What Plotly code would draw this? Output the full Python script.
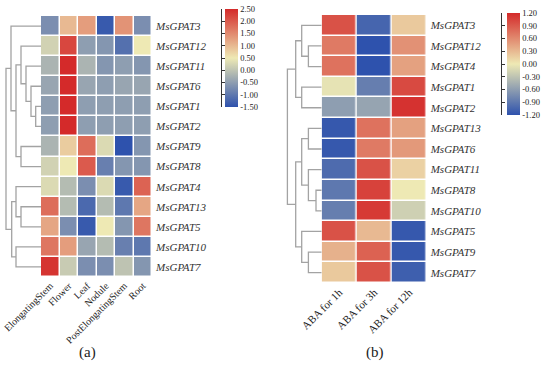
import plotly.graph_objects as go

W, H = 550, 366

# ---------------- data ----------------
tissues = ["ElongatingStem", "Flower", "Leaf", "Nodule", "PostElongatingStem", "Root"]
genes_a = ["MsGPAT3", "MsGPAT12", "MsGPAT11", "MsGPAT6", "MsGPAT1", "MsGPAT2", "MsGPAT9",
           "MsGPAT8", "MsGPAT4", "MsGPAT13", "MsGPAT5", "MsGPAT10", "MsGPAT7"]
values_a = [
    [-0.7, 1.0, 1.3, -1.4, 1.4, -0.7],
    [0.2, 2.2, -0.5, -0.6, -1.1, 0.5],
    [-0.2, 2.5, -0.2, -0.6, -0.5, -0.6],
    [-0.4, 2.5, -0.4, -0.5, -0.4, -0.4],
    [-0.5, 2.5, -0.5, -0.5, -0.5, -0.5],
    [-0.5, 2.5, -0.5, -0.5, -0.5, -0.5],
    [-0.2, 0.8, 1.8, 0.3, -1.5, -0.6],
    [0.2, 0.5, 2.0, -0.9, -0.6, -0.6],
    [0.3, -0.1, -0.7, 0.3, -1.4, 1.9],
    [1.8, -0.1, -1.2, -0.1, -1.0, 1.2],
    [1.2, -0.7, -1.4, 0.5, -0.6, 1.7],
    [1.7, 1.3, -0.4, -0.1, -0.9, -1.0],
    [2.4, 0.1, -0.7, -0.7, 0.0, -0.6],
]
# dendrogram merges: (child_a, child_b, height); ids >= n are earlier merges
links_a = [(4, 5, 5.3), (3, 13, 10), (2, 14, 15), (1, 15, 20), (6, 7, 20), (16, 17, 25),
           (0, 18, 30), (9, 10, 20), (8, 20, 25), (11, 12, 25), (21, 22, 29.3), (19, 23, 35)]
cbar_a_vals = [2.5, 2.0, 1.5, 1.0, 0.5, 0.0, -0.5, -1.0, -1.5]
cbar_a_text = ["2.50", "2.00", "1.50", "1.00", "0.50", "0.00", "-0.50", "-1.00", "-1.50"]

treatments = ["ABA for 1h", "ABA for 3h", "ABA for 12h"]
genes_b = ["MsGPAT3", "MsGPAT12", "MsGPAT4", "MsGPAT1", "MsGPAT2", "MsGPAT13", "MsGPAT6",
           "MsGPAT11", "MsGPAT8", "MsGPAT10", "MsGPAT5", "MsGPAT9", "MsGPAT7"]
values_b = [
    [0.95, -1.05, 0.2],
    [0.7, -1.2, 0.55],
    [0.75, -1.2, 0.45],
    [-0.05, -0.85, 1.0],
    [-0.6, -0.55, 1.15],
    [-1.15, 0.75, 0.45],
    [-1.15, 0.7, 0.5],
    [-1.0, 0.95, 0.15],
    [-0.9, 1.05, 0.0],
    [-0.85, 1.1, -0.2],
    [0.95, 0.3, -1.15],
    [0.35, 0.85, -1.15],
    [0.2, 0.95, -1.1],
]
links_b = [(1, 2, 13.3), (0, 13, 20), (3, 4, 20), (14, 15, 26), (5, 6, 13.3), (8, 9, 5.7),
           (7, 18, 13.3), (17, 19, 20), (11, 12, 13.3), (10, 21, 20), (20, 22, 26), (16, 23, 34.3)]
cbar_b_vals = [1.2, 0.9, 0.6, 0.3, 0.0, -0.3, -0.6, -0.9, -1.2]
cbar_b_text = ["1.20", "0.90", "0.60", "0.30", "0.00", "-0.30", "-0.60", "-0.90", "-1.20"]

captions = ["(a)", "(b)"]

# ---------------- style ----------------
FONT = "Liberation Serif"
TXT = "#222222"
colorscale = [[0.0, "#2e52ad"], [0.5, "#eee9b4"], [1.0, "#d42a2a"]]
DCOL = "#a3a3a3"


def px_x(p):
    return p / W


def px_y(p):
    return 1 - p / H


def dendro_lines(n, links):
    pos = {i: float(i) for i in range(n)}
    hgt = {i: 0.0 for i in range(n)}
    xs, ys = [], []
    for k, (a, b, h) in enumerate(links):
        cid = n + k
        xs += [hgt[a], h, h, hgt[b], None]
        ys += [pos[a], pos[a], pos[b], pos[b], None]
        pos[cid] = (pos[a] + pos[b]) / 2
        hgt[cid] = h
    return xs, ys


fig = go.Figure()

# ---- panel (a) ----
fig.add_trace(go.Heatmap(
    z=values_a, x=list(range(len(tissues))), y=list(range(len(genes_a))),
    colorscale=colorscale, zmin=-1.5, zmax=2.5, xgap=1.5, ygap=1.5,
    xaxis="x", yaxis="y", hoverinfo="skip",
    colorbar=dict(x=px_x(225), xanchor="left", xref="paper", y=px_y(9), yanchor="top",
                  len=98 / H, lenmode="fraction", thickness=13, thicknessmode="pixels",
                  xpad=0, ypad=0, outlinewidth=0, ticks="",
                  tickvals=cbar_a_vals, ticktext=cbar_a_text,
                  tickfont=dict(family=FONT, size=8.5, color=TXT)),
))
xa, ya = dendro_lines(len(genes_a), links_a)
fig.add_trace(go.Scatter(x=xa, y=ya, mode="lines", line=dict(color=DCOL, width=1.3),
                         xaxis="x3", yaxis="y", hoverinfo="skip", showlegend=False))

# ---- panel (b) ----
fig.add_trace(go.Heatmap(
    z=values_b, x=list(range(len(treatments))), y=list(range(len(genes_b))),
    colorscale=colorscale, zmin=-1.2, zmax=1.2, xgap=1.5, ygap=1.5,
    xaxis="x2", yaxis="y2", hoverinfo="skip",
    colorbar=dict(x=px_x(506.7), xanchor="left", xref="paper", y=px_y(13), yanchor="top",
                  len=102 / H, lenmode="fraction", thickness=13.3, thicknessmode="pixels",
                  xpad=0, ypad=0, outlinewidth=0, ticks="",
                  tickvals=cbar_b_vals, ticktext=cbar_b_text,
                  tickfont=dict(family=FONT, size=8.5, color=TXT)),
))
xb, yb = dendro_lines(len(genes_b), links_b)
fig.add_trace(go.Scatter(x=xb, y=yb, mode="lines", line=dict(color=DCOL, width=1.3),
                         xaxis="x4", yaxis="y2", hoverinfo="skip", showlegend=False))

# ---- colorbar brackets (dummy traces to host the axes) ----
fig.add_trace(go.Scatter(x=[0], y=[0], mode="markers", marker=dict(opacity=0),
                         xaxis="x5", yaxis="y3", hoverinfo="skip", showlegend=False))
fig.add_trace(go.Scatter(x=[0], y=[0], mode="markers", marker=dict(opacity=0),
                         xaxis="x6", yaxis="y4", hoverinfo="skip", showlegend=False))

tick_font_x = dict(family=FONT, size=10, color=TXT)
gene_font = dict(family=FONT, size=11, color="#333333", style="italic")

fig.update_layout(
    width=W, height=H, margin=dict(l=0, r=0, t=0, b=0, autoexpand=False),
    paper_bgcolor="white", plot_bgcolor="white", showlegend=False,
    font=dict(family=FONT, color=TXT),
    xaxis=dict(domain=[px_x(41), px_x(152)], range=[-0.5, len(tissues) - 0.5],
               tickvals=list(range(len(tissues))), ticktext=tissues, tickangle=-45,
               tickfont=tick_font_x, showgrid=False, zeroline=False, showline=False,
               ticks="", anchor="y", automargin=False, ticklabeloverflow="allow"),
    yaxis=dict(domain=[px_y(277), px_y(16)], range=[len(genes_a) - 0.5, -0.5],
               tickvals=list(range(len(genes_a))), ticktext=genes_a, side="right",
               tickfont=gene_font, showgrid=False, zeroline=False, ticks="",
               anchor="x", ticklabelstandoff=3, automargin=False),
    xaxis3=dict(domain=[0, px_x(41)], range=[41, 0], visible=False, anchor="y",
                automargin=False),
    xaxis2=dict(domain=[px_x(321.7), px_x(426.7)], range=[-0.5, len(treatments) - 0.5],
                tickvals=list(range(len(treatments))), ticktext=treatments, tickangle=-45,
                tickfont=dict(family=FONT, size=11, color=TXT), showgrid=False,
                zeroline=False, ticks="", anchor="y2", automargin=False,
                ticklabeloverflow="allow"),
    yaxis2=dict(domain=[px_y(283), px_y(15)], range=[len(genes_b) - 0.5, -0.5],
                tickvals=list(range(len(genes_b))), ticktext=genes_b, side="right",
                tickfont=gene_font, showgrid=False, zeroline=False, ticks="",
                anchor="x2", ticklabelstandoff=3, automargin=False),
    xaxis4=dict(domain=[px_x(280), px_x(321.7)], range=[41.7, 0], visible=False,
                anchor="y2", automargin=False),
    xaxis5=dict(domain=[px_x(222), px_x(238)], visible=False, anchor="y3",
                automargin=False),
    yaxis3=dict(domain=[px_y(107), px_y(9)], range=[-1.5, 2.5], anchor="x5", side="left",
                showline=True, linecolor="#333", linewidth=1, ticks="inside", ticklen=2.5,
                tickcolor="#333", tickvals=cbar_a_vals, showticklabels=False,
                showgrid=False, zeroline=False, automargin=False),
    xaxis6=dict(domain=[px_x(502.3), px_x(520)], visible=False, anchor="y4",
                automargin=False),
    yaxis4=dict(domain=[px_y(115), px_y(13)], range=[-1.2, 1.2], anchor="x6", side="left",
                showline=True, linecolor="#333", linewidth=1, ticks="inside", ticklen=2.5,
                tickcolor="#333", tickvals=cbar_b_vals, showticklabels=False,
                showgrid=False, zeroline=False, automargin=False),
    annotations=[
        dict(text=captions[0], x=px_x(87), y=px_y(352), xref="paper", yref="paper",
             xanchor="center", yanchor="middle",
             showarrow=False, font=dict(family=FONT, size=15, color=TXT)),
        dict(text=captions[1], x=px_x(375), y=px_y(352), xref="paper", yref="paper",
             xanchor="center", yanchor="middle",
             showarrow=False, font=dict(family=FONT, size=15, color=TXT)),
    ],
)

fig.write_html("out.html", config={"displayModeBar": False},
               post_script="document.body.style.margin='0';document.body.style.padding='0';")
